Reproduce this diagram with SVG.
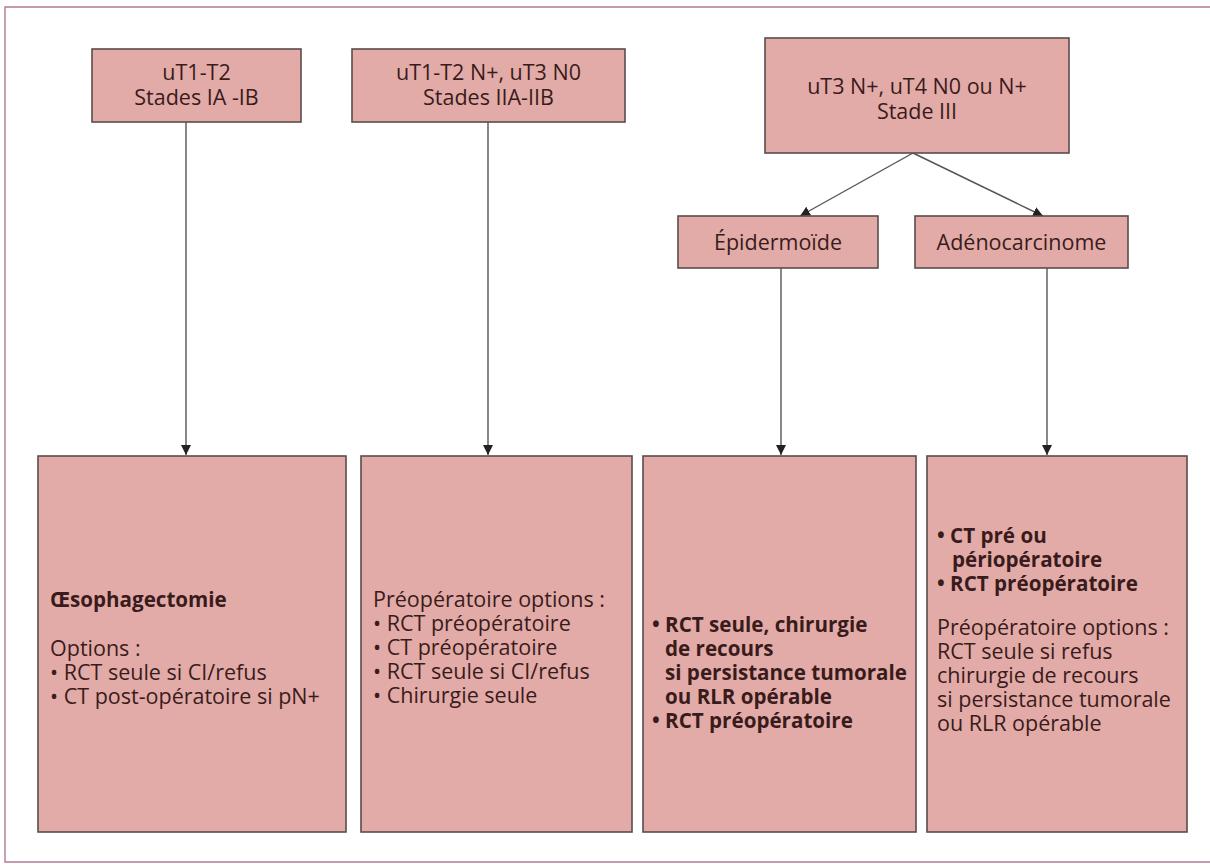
<svg xmlns="http://www.w3.org/2000/svg" width="1210" height="864" viewBox="0 0 1210 864">
  <style>
    .box { fill: #e2aba8; stroke: #5b4b4b; stroke-width: 1.6; }
    .t { font-family: "Open Sans", "Noto Sans", "Liberation Sans", sans-serif; font-size: 21.5px; fill: #3a1b1b; }
    .c { text-anchor: middle; }
    .b { font-weight: bold; font-size: 20.6px; }
    .edge { stroke: #555; stroke-width: 1.4; fill: none; marker-end: url(#arrow); }
  </style>
  <defs>
    <marker id="arrow" viewBox="0 0 10 10" refX="10" refY="5" markerWidth="10" markerHeight="10" markerUnits="userSpaceOnUse" orient="auto">
      <path d="M0,0 L10,5 L0,10 z" fill="#222"/>
    </marker>
  </defs>

  <rect width="1210" height="864" fill="#ffffff"/>
  <!-- outer frame -->
  <path d="M1212,7 H5 V862 H1212" fill="none" stroke="#b07a95" stroke-width="1.4"/>

  <!-- connectors -->
  <g id="connectors">
    <line class="edge" x1="186" y1="122" x2="186" y2="455"/>
    <line class="edge" x1="488" y1="122" x2="488" y2="455"/>
    <line class="edge" x1="913" y1="153" x2="800" y2="216"/>
    <line class="edge" x1="913" y1="153" x2="1043" y2="216"/>
    <line class="edge" x1="781" y1="268" x2="781" y2="455"/>
    <line class="edge" x1="1047" y1="268" x2="1047" y2="455"/>
  </g>

  <!-- stage boxes -->
  <g id="stage-1">
    <rect class="box" x="92" y="49" width="209" height="73"/>
    <text class="t c" x="196.5" y="80">uT1-T2</text>
    <text class="t c" x="196.5" y="105">Stades IA -IB</text>
  </g>
  <g id="stage-2">
    <rect class="box" x="352" y="49" width="273" height="73"/>
    <text class="t c" x="488.5" y="80">uT1-T2 N+, uT3 N0</text>
    <text class="t c" x="488.5" y="105">Stades IIA-IIB</text>
  </g>
  <g id="stage-3">
    <rect class="box" x="765" y="38" width="304" height="115"/>
    <text class="t c" x="917" y="94">uT3 N+, uT4 N0 ou N+</text>
    <text class="t c" x="917" y="119">Stade III</text>
  </g>

  <!-- histology boxes -->
  <g id="epidermoide">
    <rect class="box" x="678" y="216" width="200" height="52"/>
    <text class="t c" x="778" y="250">Épidermoïde</text>
  </g>
  <g id="adenocarcinome">
    <rect class="box" x="915" y="216" width="213" height="52"/>
    <text class="t c" x="1021.5" y="250">Adénocarcinome</text>
  </g>

  <!-- treatment boxes -->
  <g id="treatment-1">
    <rect class="box" x="38" y="456" width="308" height="376"/>
    <text class="t b" x="50" y="607">Œsophagectomie</text>
    <text class="t" x="50" y="656">Options :</text>
    <text class="t" x="50" y="680">• RCT seule si CI/refus</text>
    <text class="t" x="50" y="704">• CT post-opératoire si pN+</text>
  </g>
  <g id="treatment-2">
    <rect class="box" x="361" y="456" width="271" height="376"/>
    <text class="t" x="373" y="607">Préopératoire options :</text>
    <text class="t" x="373" y="631">• RCT préopératoire</text>
    <text class="t" x="373" y="655">• CT préopératoire</text>
    <text class="t" x="373" y="679">• RCT seule si CI/refus</text>
    <text class="t" x="373" y="703">• Chirurgie seule</text>
  </g>
  <g id="treatment-3">
    <rect class="box" x="643" y="456" width="273" height="376"/>
    <text class="t b" x="652" y="632">• RCT seule, chirurgie</text>
    <text class="t b" x="665" y="656">de recours</text>
    <text class="t b" x="665" y="680">si persistance tumorale</text>
    <text class="t b" x="665" y="704">ou RLR opérable</text>
    <text class="t b" x="652" y="728">• RCT préopératoire</text>
  </g>
  <g id="treatment-4">
    <rect class="box" x="927" y="456" width="260" height="376"/>
    <text class="t b" x="937" y="543">• CT pré ou</text>
    <text class="t b" x="952" y="567">périopératoire</text>
    <text class="t b" x="937" y="591">• RCT préopératoire</text>
    <text class="t" x="937" y="635">Préopératoire options :</text>
    <text class="t" x="937" y="659">RCT seule si refus</text>
    <text class="t" x="937" y="683">chirurgie de recours</text>
    <text class="t" x="937" y="707">si persistance tumorale</text>
    <text class="t" x="937" y="731">ou RLR opérable</text>
  </g>
</svg>
